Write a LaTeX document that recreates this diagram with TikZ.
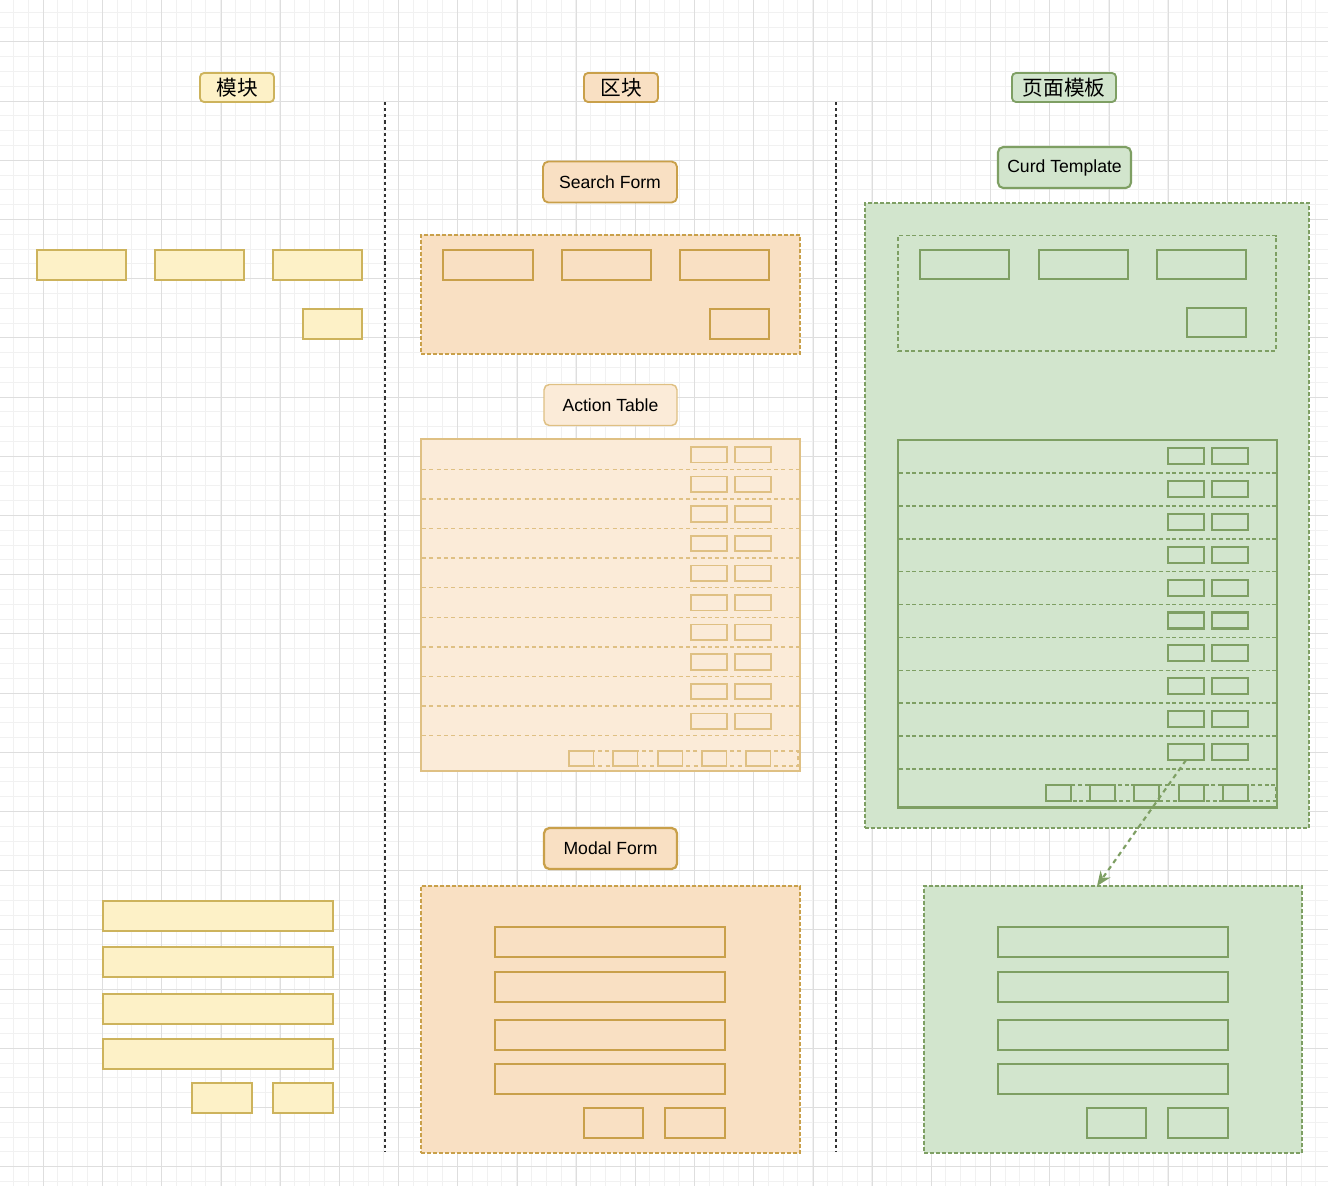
\documentclass[tikz,border=0pt]{standalone}
\usepackage{fontspec}
\setmainfont{Liberation Sans}
\newfontfamily\cjk{Noto Sans CJK SC}
\usetikzlibrary{arrows.meta}
\definecolor{yfill}{HTML}{FDF1C7}
\definecolor{ystroke}{HTML}{CDB35C}
\definecolor{ofill}{HTML}{F9E0C3}
\definecolor{ostroke}{HTML}{C9A04A}
\definecolor{ofillL}{HTML}{FBEBD8}
\definecolor{ostrokeL}{HTML}{DFC083}
\definecolor{gfill}{HTML}{D2E5CD}
\definecolor{gstroke}{HTML}{7E9F63}
\definecolor{gridminor}{HTML}{F1F1F1}
\definecolor{gridmajor}{HTML}{DEDEDE}
\definecolor{divcol}{HTML}{333333}
\newcommand{\rb}[6]{\node[#1, anchor=north west, inner sep=0pt, outer sep=0pt,
  minimum width={(#4-#2)*0.75pt}, minimum height={(#5-#3)*0.75pt}] (#6) at (#2,#3) {};}
\tikzset{
  ybox/.style={draw=ystroke, fill=yfill, line width=1.4pt},
  ocont/.style={draw=ostroke, fill=ofill, line width=1.2pt, dash pattern=on 3pt off 1.5pt},
  oin/.style={draw=ostroke, line width=1.6pt},
  otab/.style={draw=ostrokeL, fill=ofillL, line width=1.1pt},
  oinL/.style={draw=ostrokeL, line width=1.3pt},
  orow/.style={draw=ostrokeL, line width=1.1pt, dash pattern=on 3pt off 2.5pt},
  gcont/.style={draw=gstroke, fill=gfill, line width=1.2pt, dash pattern=on 3pt off 1.5pt},
  gin/.style={draw=gstroke, line width=1.6pt},
  gdash/.style={draw=gstroke, line width=1.2pt, dash pattern=on 3pt off 2pt},
  lbl/.style={rounded corners=4pt, line width=1.4pt, inner sep=0pt, text=black,
    font=\fontsize{13.2}{15}\selectfont, minimum width={133*0.75pt}, minimum height={41*0.75pt}},
  hdr/.style={rounded corners=3pt, line width=1.4pt, inner sep=0pt, text=black,
    font=\cjk\fontsize{15.5}{17}\selectfont, minimum height={29*0.75pt}},
  divider/.style={draw=divcol, line width=1.8pt, dash pattern=on 2.4pt off 2.2pt},
  arr/.style={draw=gstroke, line width=1.6pt, dash pattern=on 3.5pt off 3pt,
    -{Stealth[length=11pt,width=9pt]}},
  gminor/.style={draw=gridminor, line width=0.5pt},
  gmajor/.style={draw=gridmajor, line width=0.6pt}
}
\begin{document}
\begin{tikzpicture}[x=0.75pt,y=-0.75pt]
\useasboundingbox (0,0) rectangle (1328,1186);
\fill[white] (0,0) rectangle (1328,1186);
% grid
\foreach \i in {0,...,90} {\draw[gminor] ({-1.4+\i*14.8},0) -- ++(0,1186);}
\foreach \i in {0,...,81} {\draw[gminor] (0,{-2.6+\i*14.8}) -- ++(1328,0);}
\foreach \i in {-1,...,22} {\draw[gmajor] ({43.4+\i*59.2},0) -- ++(0,1186);}
\foreach \i in {-1,...,20} {\draw[gmajor] (0,{41.8+\i*59.2}) -- ++(1328,0);}

% headers
\node[hdr, draw=ystroke, fill=yfill, minimum width={74*0.75pt}] (h1) at (237,87.5) {模块};
\node[hdr, draw=ostroke, fill=ofill, minimum width={74*0.75pt}] (h2) at (621,87.5) {区块};
\node[hdr, draw=gstroke, fill=gfill, minimum width={104*0.75pt}] (h3) at (1064,87.5) {页面模板};

% dividers
\draw[divider] (385,102) -- (385,1152);
\draw[divider] (836,102) -- (836,1152);

% ===== left column: modules =====
\rb{ybox}{37}{250}{126}{280}{y1}
\rb{ybox}{155}{250}{244}{280}{y2}
\rb{ybox}{273}{250}{362}{280}{y3}
\rb{ybox}{303}{309}{362}{339}{y4}
\rb{ybox}{103}{901}{333}{931}{y5}
\rb{ybox}{103}{947}{333}{977}{y6}
\rb{ybox}{103}{994}{333}{1024}{y7}
\rb{ybox}{103}{1039}{333}{1069}{y8}
\rb{ybox}{192}{1083}{252}{1113}{y9}
\rb{ybox}{273}{1083}{333}{1113}{y10}

% ===== middle column: blocks =====
\node[lbl, draw=ostroke, fill=ofill, minimum width={134*0.75pt}] (sflbl) at (610,182) {Search Form};
\rb{ocont}{421}{235}{800}{354}{sf}
\rb{oin}{443}{250}{533}{280}{sf1}
\rb{oin}{562}{250}{651}{280}{sf2}
\rb{oin}{680}{250}{769}{280}{sf3}
\rb{oin}{710}{309}{769}{339}{sf4}

\node[lbl, draw=ostrokeL, fill=ofillL, line width=1.1pt] (atlbl) at (610.5,405) {Action Table};
\rb{otab}{421}{439}{800}{771}{at}
\foreach \k in {0,...,9} {
  \pgfmathsetmacro\yl{469.3+29.6*\k}
  \draw[orow] (422,\yl) -- (799,\yl);
  \pgfmathsetmacro\yb{447+29.6*\k}
  \rb{oinL}{691}{\yb}{727}{\yb+15.5}{oa\k}
  \rb{oinL}{735}{\yb}{771}{\yb+15.5}{ob\k}
}
\rb{orow}{569}{751}{798}{766}{opg}
\foreach \xx [count=\n] in {569,613,658,702,746} {
  \rb{oinL}{\xx}{751}{\xx+24.5}{766}{op\n}
}

\node[lbl, draw=ostroke, fill=ofill, line width=1.7pt] (mflbl) at (610.5,848.5) {Modal Form};
\rb{ocont}{421}{886}{800}{1153}{mf}
\rb{oin}{495}{927}{725}{957}{mf1}
\rb{oin}{495}{972}{725}{1002}{mf2}
\rb{oin}{495}{1020}{725}{1050}{mf3}
\rb{oin}{495}{1064}{725}{1094}{mf4}
\rb{oin}{584}{1108}{643}{1138}{mf5}
\rb{oin}{665}{1108}{725}{1138}{mf6}

% ===== right column: page template =====
\node[lbl, draw=gstroke, fill=gfill, line width=1.6pt] (ctlbl) at (1064.5,167.5) {Curd Template};
\rb{gcont}{865}{203}{1309}{828}{ct}
\rb{gdash}{898}{235.5}{1276}{351}{gsf}
\rb{gin}{920}{250}{1009}{279}{gs1}
\rb{gin}{1039}{250}{1128}{279}{gs2}
\rb{gin}{1157}{250}{1246}{279}{gs3}
\rb{gin}{1187}{308}{1246}{337}{gs4}

\rb{gin}{898}{440}{1277}{807.5}{gtab}
\foreach \k in {0,...,9} {
  \pgfmathsetmacro\yl{472.9+32.9*\k}
  \draw[gdash] (899,\yl) -- (1276,\yl);
  \pgfmathsetmacro\yb{448+32.9*\k}
  \rb{gin}{1168}{\yb}{1204}{\yb+16}{ga\k}
  \rb{gin}{1212}{\yb}{1248}{\yb+16}{gb\k}
}
\rb{gdash}{1046}{785}{1276}{801}{gpg}
\foreach \xx [count=\n] in {1046,1090,1134.3,1179,1222.7} {
  \rb{gin}{\xx}{785}{\xx+25}{801}{gp\n}
}

\rb{gcont}{924}{886}{1302}{1153}{gmf}
\rb{gin}{998}{927}{1228}{957}{gm1}
\rb{gin}{998}{972}{1228}{1002}{gm2}
\rb{gin}{998}{1020}{1228}{1050}{gm3}
\rb{gin}{998}{1064}{1228}{1094}{gm4}
\rb{gin}{1087}{1108}{1146}{1138}{gm5}
\rb{gin}{1168}{1108}{1228}{1138}{gm6}

% arrow
\coordinate (arrend) at ([xshift={-16*0.75pt}]gmf.north);
\draw[arr] (ga9.south) -- (arrend);
\end{tikzpicture}
\end{document}
